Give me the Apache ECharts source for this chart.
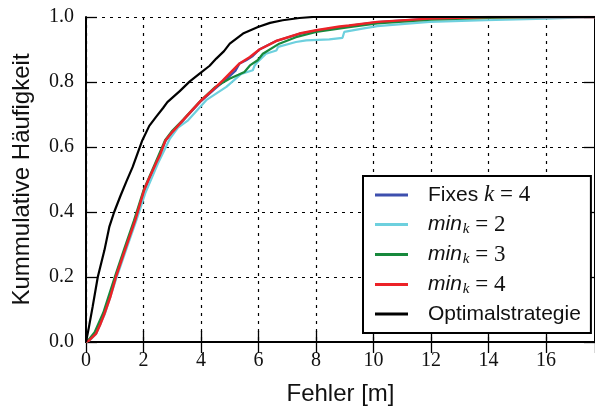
<!DOCTYPE html>
<html>
<head>
<meta charset="utf-8">
<script src="https://cdn.jsdelivr.net/npm/echarts@6/dist/echarts.min.js"></script>
<style>html,body{margin:0;padding:0;background:#fff;}#c{width:595px;height:411px;}</style>
</head>
<body>
<div id="c"></div>
<script>
// ---- data (x = Fehler [m], y = kumulative Häufigkeit) ----
var seriesNames = ['Fixes k = 4', 'min_k = 2', 'min_k = 3', 'min_k = 4', 'Optimalstrategie'];
var seriesColors = ['#3d4fae', '#6dd0de', '#17893c', '#ec2227', '#000000'];

var fixedK4 = [[0,0],[0.11,0.006],[0.35,0.027],[0.64,0.088],[1.04,0.2],[1.39,0.292],[1.71,0.374],[2.02,0.465],[2.43,0.549],[2.77,0.62],[3.0,0.645],[3.4,0.684],[4.01,0.742],[4.5,0.78],[4.9,0.81],[5.2,0.835],[5.34,0.857],[5.57,0.867],[5.8,0.88],[6.03,0.9],[6.61,0.926],[7.42,0.948],[8.0,0.958],[9.15,0.973],[10.13,0.984],[12,0.995],[14,1.0],[18,1.0]];
var minK2 = [[0,0],[0.12,0.005],[0.35,0.025],[0.65,0.085],[1.05,0.195],[1.42,0.29],[1.75,0.374],[2.07,0.46],[2.5,0.549],[2.92,0.626],[3.2,0.66],[3.55,0.682],[4.18,0.744],[4.88,0.785],[5.4,0.825],[5.8,0.836],[5.86,0.85],[5.97,0.862],[6.03,0.867],[6.26,0.887],[6.62,0.897],[6.68,0.908],[7.3,0.923],[7.66,0.928],[8.46,0.931],[8.92,0.936],[8.98,0.954],[9.61,0.964],[10.13,0.972],[11.94,0.985],[13.9,0.99],[16,0.995],[17,0.998],[18,1.0]];
var minK3 = [[0,0],[0.1,0.008],[0.3,0.03],[0.6,0.09],[1.0,0.2],[1.35,0.292],[1.67,0.374],[2.0,0.467],[2.4,0.549],[2.75,0.621],[3.0,0.65],[3.4,0.686],[4.0,0.744],[4.5,0.785],[4.99,0.81],[5.3,0.822],[5.51,0.831],[5.7,0.851],[5.97,0.867],[6.15,0.887],[6.72,0.918],[7.3,0.938],[8.0,0.954],[9.15,0.969],[10.13,0.98],[12,0.992],[14,0.997],[16,1.0],[18,1.0]];
var minK4 = [[0,0],[0.11,0.005],[0.35,0.026],[0.5,0.055],[0.64,0.087],[0.85,0.14],[1.04,0.2],[1.39,0.292],[1.71,0.374],[2.02,0.467],[2.16,0.497],[2.43,0.549],[2.57,0.575],[2.77,0.621],[3.0,0.646],[3.37,0.682],[3.47,0.692],[4.01,0.744],[4.4,0.775],[4.76,0.805],[5.34,0.857],[5.7,0.877],[6.03,0.9],[6.61,0.926],[7.42,0.949],[8.0,0.959],[8.82,0.971],[9.15,0.974],[10.13,0.985],[11.94,0.995],[13,0.998],[14,1.0],[18,1.0]];
var optimal = [[0,0],[0.1,0.045],[0.23,0.108],[0.41,0.2],[0.64,0.282],[0.81,0.354],[0.98,0.4],[1.2,0.45],[1.41,0.495],[1.62,0.538],[1.96,0.621],[2.2,0.665],[2.43,0.692],[2.68,0.72],[2.83,0.738],[3.26,0.772],[3.61,0.802],[3.95,0.826],[4.3,0.85],[4.53,0.872],[4.8,0.895],[5.0,0.918],[5.46,0.949],[5.98,0.969],[6.4,0.982],[6.84,0.99],[7.42,0.997],[7.9,1.0],[18,1.0]];
var seriesData = [fixedK4, minK2, minK3, minK4, optimal];

var xTitle = 'Fehler [m]';
var yTitle = 'Kummulative Häufigkeit';

// legend rich-text versions of the names
var legendRich = {
  'Fixes k = 4': 'Fixes {mi|k} {m|= 4}',
  'min_k = 2': '{it|min}{sub|k}{m| = 2}',
  'min_k = 3': '{it|min}{sub|k}{m| = 3}',
  'min_k = 4': '{it|min}{sub|k}{m| = 4}',
  'Optimalstrategie': 'Optimalstrategie'
};

var chart = echarts.init(document.getElementById('c'), null, {renderer: 'canvas'});
var serif = 'Liberation Serif';
var sans = 'Liberation Sans';
var ink = '#000';

function axisBase() {
  return {
    type: 'value', min: 0, max: 17.7, interval: 2,
    axisLine: {show: true, lineStyle: {color: ink, width: 2}},
    axisTick: {show: true, inside: true, length: 11, lineStyle: {color: ink, width: 1.3}},
    splitLine: {show: false}
  };
}

var xBottom = axisBase();
xBottom.position = 'bottom';
xBottom.axisLabel = {show: true, fontFamily: serif, fontSize: 20, color: '#111', margin: 9, showMaxLabel: false};
xBottom.splitLine = {show: true, lineStyle: {color: ink, width: 1.2, type: [3, 5]}};
xBottom.name = xTitle;
xBottom.nameLocation = 'middle';
xBottom.nameGap = 40;
xBottom.nameTextStyle = {fontFamily: sans, fontSize: 24, color: '#111'};

var xTop = axisBase();
xTop.position = 'top';
xTop.axisLabel = {show: false};

var yLeft = {
  type: 'value', min: 0, max: 1, interval: 0.2, position: 'left',
  axisLine: {show: true, lineStyle: {color: ink, width: 2}},
  axisTick: {show: true, inside: true, length: 11, lineStyle: {color: ink, width: 1.3}},
  axisLabel: {show: true, fontFamily: serif, fontSize: 20, color: '#111', margin: 12,
    formatter: function (v) { return v.toFixed(1); }},
  splitLine: {show: true, lineStyle: {color: ink, width: 1.2, type: [3, 5]}},
  name: yTitle, nameLocation: 'middle', nameGap: 52,
  nameTextStyle: {fontFamily: sans, fontSize: 24, color: '#111'}
};
var yRight = {
  type: 'value', min: 0, max: 1, interval: 0.2, position: 'right',
  axisLine: {show: true, onZero: false, lineStyle: {color: ink, width: 2}},
  axisTick: {show: true, inside: true, length: 11, lineStyle: {color: ink, width: 1.3}},
  axisLabel: {show: false}, splitLine: {show: false}
};

var series = seriesNames.map(function (n, i) {
  return {
    name: n, type: 'line', xAxisIndex: 0, yAxisIndex: 0,
    data: seriesData[i], symbol: 'none', showSymbol: false,
    lineStyle: {color: seriesColors[i], width: i === 3 ? 2.5 : 2.2},
    itemStyle: {color: seriesColors[i]},
    z: 3 + i
  };
});

chart.setOption({
  animation: false,
  backgroundColor: '#fff',
  grid: {left: 86, top: 17, width: 510, height: 325, containLabel: false},
  xAxis: [xBottom, xTop],
  yAxis: [yLeft, yRight],
  legend: {
    data: seriesNames,
    orient: 'vertical', left: 363, top: 176,
    padding: [7, 10, 7, 12], itemGap: 5,
    itemWidth: 33, itemHeight: 3, icon: 'rect',
    backgroundColor: '#fff', borderColor: '#000', borderWidth: 2, borderRadius: 0,
    z: 20,
    formatter: function (name) { return legendRich[name]; },
    textStyle: {
      fontFamily: sans, fontSize: 21, color: '#111', lineHeight: 24, padding: [0, 0, 0, 15],
      rich: {
        it: {fontFamily: sans, fontStyle: 'italic', fontSize: 21, color: '#111', lineHeight: 24},
        mi: {fontFamily: serif, fontStyle: 'italic', fontSize: 23, color: '#111', lineHeight: 24},
        m: {fontFamily: serif, fontSize: 23, color: '#111', lineHeight: 24},
        sub: {fontFamily: serif, fontStyle: 'italic', fontSize: 15, color: '#111', lineHeight: 24, padding: [10, 0, 0, 1]}
      }
    }
  },
  series: series
});
</script>
</body>
</html>
